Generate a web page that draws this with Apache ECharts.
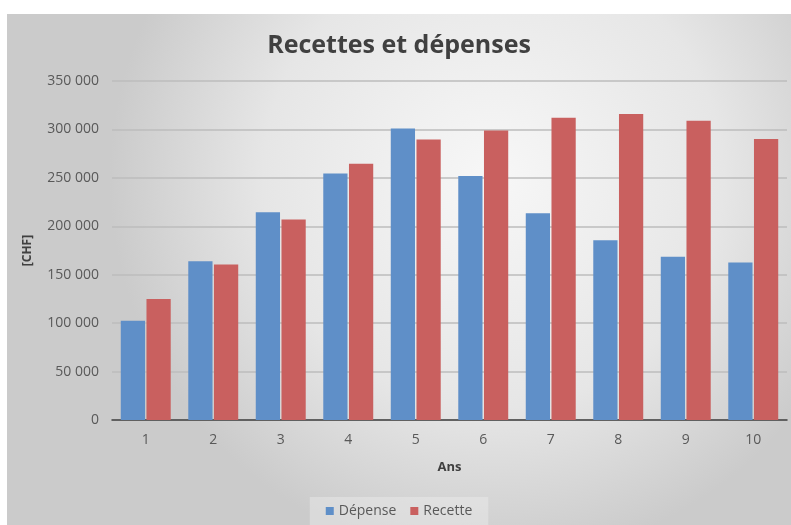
<!DOCTYPE html>
<html style="height: 100%">

<head>
  <meta charset="utf-8" />
  <title>Recettes et dépenses</title>
  <script src="https://cdn.jsdelivr.net/npm/echarts@6/dist/echarts.min.js"></script>
</head>

<body style="height: 100%; margin: 0; overflow: hidden; background: #fff">
  <div id="container" style="position: absolute; left: 7px; top: 14px; width: 784px; height: 511px"></div>
  <script>
    // données
    var years = ["1", "2", "3", "4", "5", "6", "7", "8", "9", "10"];
    var depense = [102500, 164000, 214500, 254500, 301000, 252000, 213500, 185500, 168500, 162500];
    var recette = [125000, 160500, 207000, 264500, 289500, 299000, 312000, 316000, 309000, 290000];

    var dom = document.getElementById("container");
    var myChart = echarts.init(dom, null, { renderer: "canvas" });

    var fmt = function (v) {
      return String(v).replace(/\B(?=(\d{3})+(?!\d))/g, " ");
    };

    var option = {
      backgroundColor: new echarts.graphic.RadialGradient(0.62, 0.32, 0.75, [
        { offset: 0, color: "#f7f7f7" },
        { offset: 0.6, color: "#e6e6e6" },
        { offset: 1, color: "#cbcbcb" },
      ]),
      textStyle: { fontFamily: "Open Sans" },
      title: {
        text: "Recettes et dépenses",
        left: "center",
        top: 14,
        textStyle: { fontSize: 25, fontWeight: "bold", color: "#404040", fontFamily: "Open Sans" },
      },
      legend: {
        bottom: 0,
        left: "center",
        itemWidth: 8,
        itemHeight: 8,
        itemGap: 14,
        icon: "rect",
        padding: [7, 16, 7, 16],
        backgroundColor: "rgba(240,240,240,0.4)",
        textStyle: { fontSize: 14, color: "#595959" },
        data: ["Dépense", "Recette"],
      },
      grid: { left: 105, right: 4, top: 67, bottom: 105 },
      xAxis: {
        type: "category",
        data: years,
        name: "Ans",
        nameLocation: "middle",
        nameGap: 41,
        nameTextStyle: { fontSize: 13, fontWeight: "bold", color: "#404040" },
        axisLine: { lineStyle: { color: "#404040", width: 1.5 } },
        axisTick: { show: false },
        axisLabel: { fontSize: 14, color: "#595959", margin: 13 },
      },
      yAxis: {
        type: "value",
        min: 0,
        max: 350000,
        interval: 50000,
        name: "[CHF]",
        nameLocation: "middle",
        nameGap: 78,
        nameTextStyle: { fontSize: 12, fontWeight: "bold", color: "#404040" },
        axisLine: { show: false },
        axisTick: { show: false },
        axisLabel: { fontSize: 14, color: "#595959", margin: 13, formatter: fmt },
        splitLine: { lineStyle: { color: "#bdbdbd", width: 1.5 } },
      },
      series: [
        {
          name: "Dépense",
          type: "bar",
          data: depense,
          barGap: "6%",
          barCategoryGap: "26%",
          itemStyle: { color: "#5f8fc8" },
        },
        {
          name: "Recette",
          type: "bar",
          data: recette,
          itemStyle: { color: "#c9605f" },
        },
      ],
    };

    myChart.setOption(option);
    window.addEventListener("resize", myChart.resize);
  </script>
</body>

</html>
